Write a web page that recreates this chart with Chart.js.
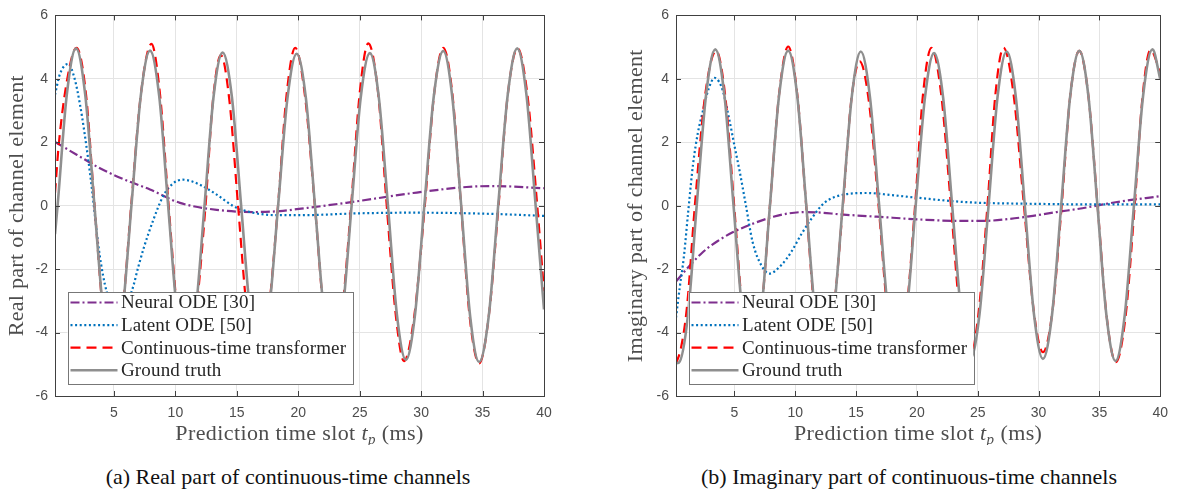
<!DOCTYPE html>
<html>
<head>
<meta charset="utf-8">
<script src="https://cdn.jsdelivr.net/npm/chart.js@4.4.0/dist/chart.umd.min.js"></script>
<style>
  body { margin: 0; background: #fff; width: 1177px; height: 494px; overflow: hidden; position: relative; }
  .panel { position: absolute; top: 0; }
  .caption { position: absolute; top: 464px; font-family: "Liberation Serif", serif; font-size: 22px; color: #111; white-space: nowrap; transform: translateX(-50%); }
</style>
</head>
<body>
<div class="panel" style="left:0"><canvas id="realChart" width="590" height="445"></canvas></div>
<div class="panel" style="left:590px"><canvas id="imagChart" width="587" height="445"></canvas></div>
<div class="caption" style="left:288px">(a) Real part of continuous-time channels</div>
<div class="caption" style="left:909px">(b) Imaginary part of continuous-time channels</div>

<script>
// Tick positions
const xTicks = [5, 10, 15, 20, 25, 30, 35, 40];
const yTicks = [-6, -4, -2, 0, 2, 4, 6];

const seriesLabels = ['Neural ODE [30]', 'Latent ODE [50]', 'Continuous-time transformer', 'Ground truth'];

// (a) real part - [x, y] pairs
const realNeural = [
  [0.2, 2.01], [2, 1.6], [3.86, 1.18], [6, 0.8], [7.93, 0.51], [10.37, 0.09], [13.36, -0.13],
  [16.34, -0.2], [18.5, -0.17], [19.87, -0.11], [23.9, 0.09], [29.35, 0.4], [33.7, 0.59],
  [35.86, 0.62], [40, 0.55]
];
const realLatent = [
  [0.2, 3.5], [0.6, 4.15], [1.29, 4.47], [1.8, 4.0], [2.23, 3.2], [2.6, 2.3], [2.91, 1.44],
  [3.2, 0.55], [3.45, -0.32], [3.8, -1.46], [4.4, -2.7], [5.4, -3.4], [6.44, -2.7], [7.0, -1.9],
  [7.45, -1.3], [8.2, -0.45], [9.0, 0.3], [9.8, 0.7], [10.6, 0.82], [11.3, 0.77], [12.0, 0.66],
  [13.36, 0.35], [14.7, -0.01], [16.3, -0.22], [18.5, -0.3], [20.1, -0.3], [25, -0.24],
  [29.35, -0.22], [35, -0.25], [40, -0.32]
];
const realTransformer = [
  [0.2, 0.4], [0.5, 1.9], [1.2, 4.0], [1.95, 4.98], [2.7, 3.6], [3.42, 0], [4.15, -3.5], [4.9, -4.9],
  [5.65, -3.5], [6.4, 0], [7.2, 3.55], [8.05, 5.1], [8.75, 3.5], [9.45, 0], [10.2, -3.5], [10.9, -4.9],
  [11.65, -3.45], [12.45, 0], [13.05, 3.3], [13.7, 4.75], [14.4, 3.3], [15.1, 0], [15.85, -3.4],
  [16.75, -4.85], [17.55, -3.45], [18.35, 0], [19.05, 3.5], [19.75, 4.98], [20.55, 3.45], [21.35, 0],
  [22.1, -3.45], [22.8, -4.85], [23.55, -3.4], [24.3, 0], [25.0, 3.55], [25.7, 5.12], [26.5, 3.55],
  [27.2, 0], [27.95, -3.5], [28.6, -4.9], [29.45, -3.45], [30.3, 0], [31.05, 3.5], [31.8, 4.98],
  [32.55, 3.5], [33.25, 0], [33.95, -3.5], [34.72, -4.97], [35.5, -3.5], [36.3, 0], [37.05, 3.5],
  [37.85, 4.96], [38.65, 3.5], [39.45, 0], [40, -2.7]
];
const realTruth = [
  [0.2, -0.9], [0.41, 0], [1.16, 3.5], [1.91, 4.96], [2.66, 3.5], [3.41, 0], [4.16, -3.47], [4.92, -4.9],
  [5.67, -3.46], [6.42, 0], [7.18, 3.46], [7.93, 4.89], [8.68, 3.46], [9.41, 0], [10.15, -3.44],
  [10.89, -4.87], [11.62, -3.44], [12.37, 0], [13.1, 3.42], [13.84, 4.83], [14.6, 3.42], [15.35, 0],
  [16.1, -3.42], [16.85, -4.83], [17.6, -3.41], [18.36, 0], [19.12, 3.39], [19.87, 4.79], [20.62, 3.39],
  [21.36, 0], [22.1, -3.39], [22.85, -4.8], [23.6, -3.39], [24.34, 0], [25.08, 3.4], [25.83, 4.81],
  [26.56, 3.4], [27.3, 0], [28.03, -3.44], [28.76, -4.86], [29.5, -3.44], [30.26, 0], [31.03, 3.45],
  [31.8, 4.88], [32.53, 3.45], [33.26, 0], [33.99, -3.49], [34.72, -4.93], [35.5, -3.49], [36.27, 0],
  [37.05, 3.5], [37.82, 4.96], [38.57, 3.5], [39.32, 0], [40, -3.27]
];

// (b) imaginary part
const imagNeural = [
  [0.2, -2.39], [1.3, -1.9], [2.42, -1.46], [3.6, -1.12], [4.86, -0.84], [6.76, -0.53], [8.2, -0.35],
  [9.5, -0.24], [10.85, -0.2], [12.2, -0.22], [13.57, -0.27], [16, -0.33], [18, -0.38], [20.5, -0.44],
  [23.57, -0.48], [25.47, -0.48], [27.5, -0.42], [29.54, -0.32], [31.5, -0.2], [33.6, -0.08],
  [36.33, 0.11], [40, 0.3]
];
const imagLatent = [
  [0.2, -3.53], [0.5, -2.6], [0.85, -1.6], [1.2, -0.2], [1.6, 1.3], [2.0, 2.3], [2.42, 3.0], [2.85, 3.65],
  [3.37, 4.03], [3.75, 3.9], [4.05, 3.62], [4.6, 2.68], [5.0, 1.9], [5.41, 1.13], [5.95, 0], [6.5, -1.15],
  [7.2, -1.87], [7.88, -2.14], [8.86, -1.87], [9.67, -1.46], [10.5, -0.9], [11.3, -0.43], [12.39, 0.09],
  [14.0, 0.35], [15.9, 0.4], [17.8, 0.34], [20.05, 0.25], [24.12, 0.11], [29.54, 0.06], [35, 0.04],
  [40, 0.04]
];
const imagTransformer = [
  [0.2, -4.98], [0.6, -4.5], [1.1, -3.2], [1.75, 0], [2.6, 3.5], [3.5, 4.88], [4.25, 3.45], [4.98, 0],
  [5.7, -3.45], [6.43, -4.9], [7.18, -3.45], [7.92, 0], [8.67, 3.5], [9.42, 5.02], [10.17, 3.5],
  [10.9, 0], [11.62, -3.45], [12.35, -4.87], [13.12, -3.45], [13.92, 0], [14.6, 3.3], [15.3, 4.55],
  [16.05, 3.3], [16.85, 0], [17.6, -3.4], [18.35, -4.85], [19.12, -3.4], [19.85, 0], [20.5, 3.5],
  [21.2, 4.98], [22.0, 3.5], [22.8, 0], [23.55, -3.45], [24.3, -4.85], [25.05, -3.45], [25.8, 0],
  [26.45, 3.5], [27.12, 4.98], [27.95, 3.5], [28.8, 0], [29.6, -3.3], [30.36, -4.62], [31.15, -3.3],
  [31.9, 0], [32.6, 3.45], [33.35, 4.88], [34.1, 3.45], [34.85, 0], [35.6, -3.5], [36.35, -4.93],
  [37.15, -3.5], [37.9, 0], [38.55, 3.45], [39.2, 4.91], [40, 4.2]
];
const imagTruth = [
  [0.2, -4.97], [0.44, -4.95], [1.17, -3.5], [1.9, 0], [2.67, 3.49], [3.43, 4.93], [4.18, 3.48],
  [4.93, 0], [5.68, -3.46], [6.43, -4.9], [7.18, -3.46], [7.92, 0], [8.67, 3.46], [9.42, 4.89],
  [10.17, 3.45], [10.91, 0], [11.65, -3.44], [12.4, -4.87], [13.15, -3.44], [13.9, 0], [14.65, 3.44],
  [15.39, 4.86], [16.14, 3.43], [16.9, 0], [17.65, -3.41], [18.4, -4.83], [19.15, -3.41], [19.9, 0],
  [20.66, 3.4], [21.41, 4.81], [22.16, 3.4], [22.9, 0], [23.65, -3.41], [24.4, -4.82], [25.15, -3.41],
  [25.89, 0], [26.63, 3.43], [27.38, 4.86], [28.13, 3.43], [28.87, 0], [29.62, -3.41], [30.36, -4.83],
  [31.11, -3.43], [31.86, 0], [32.6, 3.45], [33.35, 4.88], [34.1, 3.45], [34.84, 0], [35.58, -3.46],
  [36.33, -4.9], [37.08, -3.47], [37.84, 0], [38.6, 3.49], [39.36, 4.93], [40, 4.0]
];

// Line styles, same order as seriesLabels
const lineColors = ['#7E2F8E', '#0072BD', '#FF0000', '#8F8F8F'];
const lineDashes = [[9, 3, 2, 3], [2, 2.6], [10, 6], []];
const lineWidths = [2.2, 2.2, 2.2, 2.6];
const drawOrder = [4, 3, 2, 1]; // ground truth on top

const tickFont = { family: "'Liberation Sans', Arial, sans-serif", size: 14 };
const titleFamily = "'Liberation Serif', serif";
const axisGray = '#4d4d4d';

// Box frame, inward ticks and the legend drawn inside the plot
const framePlugin = {
  id: 'frame',
  afterDatasetsDraw(chart) {
    const { ctx, chartArea: a, scales: { x, y } } = chart;
    ctx.save();

    // legend box
    const rowH = 22.6;
    const bx = a.left + 12.5;
    const by = a.bottom - 12 - 92;
    ctx.font = `19px ${titleFamily}`;
    ctx.letterSpacing = '0.15px';
    const textW = Math.max(...seriesLabels.map(t => ctx.measureText(t).width));
    const bw = 53.5 + textW + 6;
    ctx.fillStyle = '#fff';
    ctx.fillRect(bx, by, bw, 92);
    ctx.strokeStyle = '#777';
    ctx.lineWidth = 1;
    ctx.setLineDash([]);
    ctx.strokeRect(Math.round(bx) + 0.5, Math.round(by) + 0.5, Math.round(bw), 92);
    chart.data.datasets.forEach((ds, i) => {
      const ry = by + 10.5 + rowH * i;
      ctx.setLineDash(ds.borderDash || []);
      ctx.strokeStyle = ds.borderColor;
      ctx.lineWidth = ds.borderWidth;
      ctx.beginPath();
      ctx.moveTo(bx + 3, ry);
      ctx.lineTo(bx + 50, ry);
      ctx.stroke();
      ctx.fillStyle = '#262626';
      ctx.textBaseline = 'middle';
      ctx.textAlign = 'left';
      ctx.fillText(ds.label, bx + 53.5, ry + 1);
    });
    ctx.letterSpacing = '0px';

    // frame and ticks
    ctx.setLineDash([]);
    ctx.strokeStyle = '#404040';
    ctx.lineWidth = 1;
    ctx.beginPath();
    xTicks.forEach(v => {
      const px = Math.round(x.getPixelForValue(v)) + 0.5;
      ctx.moveTo(px, a.bottom); ctx.lineTo(px, a.bottom - 5);
      ctx.moveTo(px, a.top); ctx.lineTo(px, a.top + 5);
    });
    yTicks.forEach(v => {
      const py = Math.round(y.getPixelForValue(v)) + 0.5;
      ctx.moveTo(a.left, py); ctx.lineTo(a.left + 5, py);
      ctx.moveTo(a.right, py); ctx.lineTo(a.right - 5, py);
    });
    ctx.stroke();
    ctx.strokeRect(Math.round(a.left) + 0.5, Math.round(a.top) + 0.5,
      Math.round(a.right - a.left), Math.round(a.bottom - a.top));
    ctx.restore();
  },
  // axis titles (x title has an italic subscript)
  afterDraw(chart, args, opts) {
    const { ctx, chartArea: a } = chart;
    const parts = [
      { t: 'Prediction time slot ', f: `22px ${titleFamily}`, dy: 0 },
      { t: 't', f: `italic 22px ${titleFamily}`, dy: 0 },
      { t: 'p', f: `italic 15px ${titleFamily}`, dy: 4 },
      { t: ' (ms)', f: `22px ${titleFamily}`, dy: 0 }
    ];
    ctx.save();
    ctx.letterSpacing = '0.4px';
    let total = 0;
    parts.forEach(p => { ctx.font = p.f; p.w = ctx.measureText(p.t).width; total += p.w; });
    let cx = (a.left + a.right) / 2 - total / 2;
    ctx.fillStyle = axisGray;
    ctx.textBaseline = 'alphabetic';
    ctx.textAlign = 'left';
    parts.forEach(p => {
      ctx.font = p.f;
      ctx.fillText(p.t, cx, 440 + p.dy);
      cx += p.w;
    });

    // y title, rotated
    ctx.font = `22px ${titleFamily}`;
    ctx.letterSpacing = '0.3px';
    ctx.translate(opts.yTitleX, (a.top + a.bottom) / 2);
    ctx.rotate(-Math.PI / 2);
    ctx.textAlign = 'center';
    ctx.textBaseline = 'middle';
    ctx.fillText(opts.yTitle, 0, 0);
    ctx.restore();
  }
};

function makeChart(canvasId, seriesData, yTitle, yTitleX, axisWidth, padRight) {
  const ctx = document.getElementById(canvasId).getContext('2d');
  return new Chart(ctx, {
    type: 'line',
    data: {
      datasets: seriesData.map((pts, i) => ({
        label: seriesLabels[i],
        data: pts.map(p => ({ x: p[0], y: p[1] })),
        borderColor: lineColors[i],
        borderDash: lineDashes[i],
        borderWidth: lineWidths[i],
        pointRadius: 0,
        fill: false,
        cubicInterpolationMode: 'monotone',
        order: drawOrder[i]
      }))
    },
    options: {
      responsive: false,
      animation: false,
      devicePixelRatio: 1,
      layout: { padding: { left: 0, right: padRight, top: 10, bottom: 0 } },
      plugins: {
        legend: { display: false },
        tooltip: { enabled: false },
        frame: { yTitle: yTitle, yTitleX: yTitleX }
      },
      scales: {
        x: {
          type: 'linear',
          min: 0.2,
          max: 40,
          afterBuildTicks: s => { s.ticks = xTicks.map(v => ({ value: v })); },
          afterFit: s => { s.height = 49; },
          ticks: { font: tickFont, color: axisGray, padding: 9, maxRotation: 0 },
          grid: { color: '#e4e4e4', drawTicks: false },
          border: { display: false }
        },
        y: {
          min: -6,
          max: 6,
          afterBuildTicks: s => { s.ticks = yTicks.map(v => ({ value: v })); },
          afterFit: s => { s.width = axisWidth; },
          ticks: { font: tickFont, color: axisGray, padding: 7 },
          grid: { color: '#e4e4e4', drawTicks: false },
          border: { display: false }
        }
      }
    },
    plugins: [framePlugin]
  });
}

makeChart('realChart', [realNeural, realLatent, realTransformer, realTruth],
  'Real part of channel element', 17, 55, 46);
makeChart('imagChart', [imagNeural, imagLatent, imagTransformer, imagTruth],
  'Imaginary part of channel element', 46, 86, 12);
</script>
</body>
</html>
